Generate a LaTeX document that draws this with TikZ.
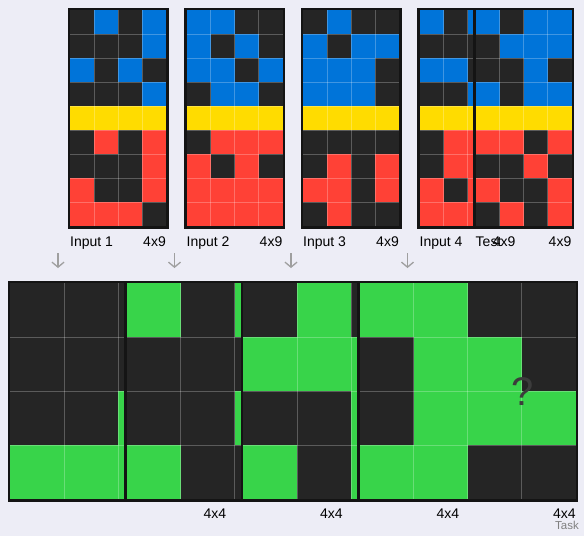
\documentclass[tikz,border=0pt]{standalone}
\usepackage{fontspec}
\setmainfont{Liberation Sans}
\usetikzlibrary{arrows.meta}
\definecolor{colK}{RGB}{37,37,37}
\definecolor{colB}{RGB}{0,116,217}
\definecolor{colR}{RGB}{255,65,54}
\definecolor{colY}{RGB}{255,220,0}
\definecolor{colG}{RGB}{56,212,74}
\definecolor{colBg}{RGB}{237,237,246}
\definecolor{colFrame}{RGB}{20,20,20}
\definecolor{colQ}{RGB}{60,60,60}
\tikzset{
  gridline/.style={white,opacity=0.25,line width=0.7pt},
  gridframe/.style={draw=colFrame,line width=2.5pt},
  lbl/.style={inner sep=0pt,font=\fontsize{14}{16}\selectfont},
  namelbl/.style={lbl,anchor=base west},
  sizelbl/.style={lbl,anchor=base east},
  arr/.style={-{Straight Barb[length=5pt,width=12pt]},line width=1.3pt,color=gray!75}
}
% name, x, y, cell, rows, colour data
\newcommand{\drawgrid}[6]{%
  \foreach \rowcols [count=\r from 0] in {#6}{
    \foreach \cc [count=\k from 0] in \rowcols{
      \fill[fill=col\cc] ({#2+\k*#4},{#3+\r*#4}) rectangle ++(#4,#4);
    }
  }
  \foreach \k in {1,2,3}
    \draw[gridline] ({#2+\k*#4},#3) -- ++(0,{#5*#4});
  \pgfmathtruncatemacro\lastrow{#5-1}
  \foreach \r in {1,...,\lastrow}
    \draw[gridline] (#2,{#3+\r*#4}) -- ++({4*#4},0);
  \draw[gridframe] ({#2-1.25},{#3-1.25}) rectangle ({#2+4*#4+1.25},{#3+#5*#4+1.25});
  \coordinate (#1-sw) at (#2,{#3+#5*#4});
  \coordinate (#1-se) at ({#2+4*#4},{#3+#5*#4});
}

\begin{document}
\begin{tikzpicture}[x=1pt,y=-1pt]
  \fill[colBg] (0,0) rectangle (584,536);
  \useasboundingbox (0,0) rectangle (584,536);

  % training inputs and test input
  \drawgrid{in1}{70}{10}{24}{9}{{K,B,K,B},{K,K,K,B},{B,K,B,K},{K,K,K,B},{Y,Y,Y,Y},
    {K,R,K,R},{K,K,K,R},{R,K,K,R},{R,R,R,K}}
  \drawgrid{in2}{186.5}{10}{24}{9}{{B,B,K,K},{B,K,B,K},{B,B,K,B},{K,B,B,K},{Y,Y,Y,Y},
    {K,R,R,R},{R,K,R,K},{R,R,R,R},{R,R,R,R}}
  \drawgrid{in3}{303}{10}{24}{9}{{K,B,K,K},{B,K,B,B},{B,B,B,K},{B,B,B,K},{Y,Y,Y,Y},
    {K,K,K,K},{K,R,K,R},{R,R,K,R},{K,R,K,K}}
  \drawgrid{in4}{419.5}{10}{24}{9}{{B,K,B,K},{K,K,K,K},{B,B,K,B},{K,K,B,K},{Y,Y,Y,Y},
    {K,R,R,K},{K,R,R,K},{R,K,R,K},{R,R,R,K}}
  \drawgrid{test}{475.5}{10}{24}{9}{{B,K,B,B},{K,B,B,B},{K,K,B,K},{B,K,B,B},{Y,Y,Y,Y},
    {R,R,K,R},{K,K,R,K},{R,K,K,R},{K,R,K,R}}

  \path (in1-sw) ++(0,20) node[namelbl] (in1name) {Input 1};
  \path (in1-se) ++(0,20) node[sizelbl] (in1size) {4x9};
  \path (in2-sw) ++(0,20) node[namelbl] (in2name) {Input 2};
  \path (in2-se) ++(0,20) node[sizelbl] (in2size) {4x9};
  \path (in3-sw) ++(0,20) node[namelbl] (in3name) {Input 3};
  \path (in3-se) ++(0,20) node[sizelbl] (in3size) {4x9};
  \path (in4-sw) ++(0,20) node[namelbl] (in4name) {Input 4};
  \path (in4-se) ++(0,20) node[sizelbl] (in4size) {4x9};
  \path (test-sw) ++(0,20) node[namelbl] (testname) {Test};
  \path (test-se) ++(0,20) node[sizelbl] (testsize) {4x9};

  % arrows
  \foreach \g in {in1,in2,in3,in4}{
    \path (\g-sw) ++(-12,27) coordinate (\g-as) ++(0,15) coordinate (\g-ae);
    \draw[arr] (\g-as) -- (\g-ae);
  }

  % outputs
  \drawgrid{out1}{10}{283}{54.1}{4}{{K,K,K,K},{K,K,K,K},{K,K,G,G},{G,G,G,G}}
  \drawgrid{out2}{126.5}{283}{54.1}{4}{{G,K,G,G},{K,K,K,K},{K,K,G,K},{G,K,K,G}}
  \drawgrid{out3}{243}{283}{54.1}{4}{{K,G,K,K},{G,G,G,K},{K,K,G,G},{G,K,G,K}}
  \drawgrid{out4}{359.5}{283}{54.1}{4}{{G,G,K,K},{K,G,G,K},{K,G,G,G},{G,G,K,K}}

  \path (out1-se) ++(0,18.6) node[sizelbl] (out1size) {4x4};
  \path (out2-se) ++(0,18.6) node[sizelbl] (out2size) {4x4};
  \path (out3-se) ++(0,18.6) node[sizelbl] (out3size) {4x4};
  \path (out4-se) ++(0,18.6) node[sizelbl] (out4size) {4x4};

  \node[inner sep=0pt,font=\fontsize{40}{40}\selectfont,text=colQ] (qmark) at (523,392) {?};
  \node[inner sep=0pt,anchor=base east,font=\fontsize{11.5}{13}\selectfont,text=gray] (tasklbl) at (579,529.5) {Task};
\end{tikzpicture}
\end{document}
